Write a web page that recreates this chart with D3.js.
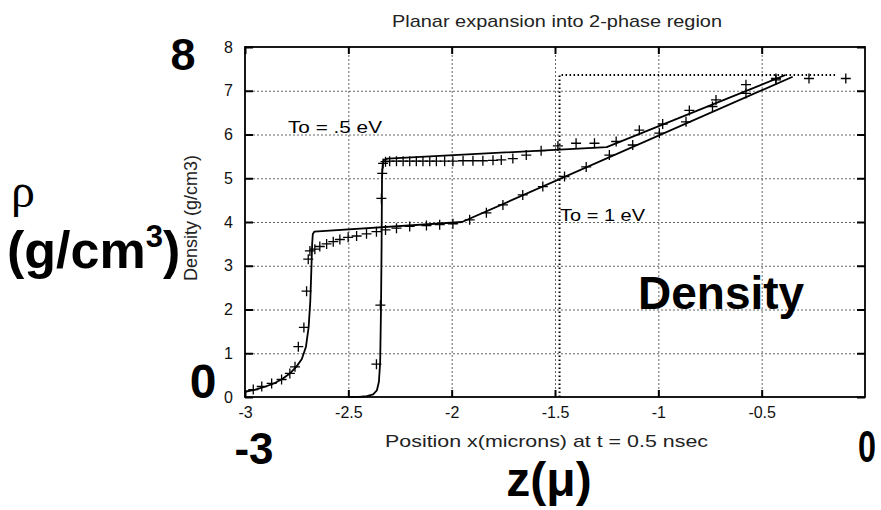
<!DOCTYPE html>
<html>
<head>
<meta charset="utf-8">
<script src="https://cdn.jsdelivr.net/npm/d3@7"></script>
<style>
  html, body { margin: 0; padding: 0; background: #fff; }
  svg { display: block; }
  text { font-family: "Liberation Sans", Arial, Helvetica, sans-serif; }
</style>
</head>
<body>
<svg id="chart" width="881" height="510"></svg>
<script>
// ---------------- data ----------------
const xTicks = [-3, -2.5, -2, -1.5, -1, -0.5];
const xTickLabels = ["-3", "-2.5", "-2", "-1.5", "-1", "-0.5"];
const yTicks = [0, 1, 2, 3, 4, 5, 6, 7, 8];
const yTickLabels = ["0", "1", "2", "3", "4", "5", "6", "7", "8"];

// model curve, To = .5 eV
const curveHalfEv = [
  [-2.5, 0], [-2.45, 0.005], [-2.41, 0.02], [-2.38, 0.06], [-2.362, 0.15],
  [-2.352, 0.35], [-2.346, 0.8], [-2.342, 2.0], [-2.339, 3.5], [-2.337, 5.0],
  [-2.334, 5.3], [-2.328, 5.42], [-2.31, 5.45], [-1.25, 5.71], [-0.385, 7.36]
];
// model curve, To = 1 eV
const curveOneEv = [
  [-3, 0.12], [-2.95, 0.17], [-2.9, 0.24], [-2.86, 0.31], [-2.82, 0.41],
  [-2.78, 0.55], [-2.75, 0.7], [-2.725, 0.87], [-2.705, 1.15], [-2.692, 1.6],
  [-2.684, 2.2], [-2.679, 2.9], [-2.675, 3.5], [-2.672, 3.72], [-2.665, 3.78],
  [-1.95, 4.0], [-0.35, 7.32]
];
// simulation points (+), To = .5 eV
const pointsHalfEv = [
  [-2.364, 0.75], [-2.345, 2.10], [-2.340, 4.54], [-2.336, 5.11], [-2.332, 5.34],
  [-2.32, 5.38], [-2.300, 5.39], [-2.267, 5.39], [-2.235, 5.39], [-2.203, 5.39],
  [-2.171, 5.39], [-2.139, 5.39], [-2.106, 5.39], [-2.074, 5.39], [-2.034, 5.39],
  [-1.994, 5.39], [-1.945, 5.40], [-1.897, 5.40], [-1.849, 5.40], [-1.800, 5.41],
  [-1.760, 5.42], [-1.704, 5.45], [-1.639, 5.53], [-1.567, 5.63], [-1.486, 5.74],
  [-1.398, 5.80], [-1.309, 5.80], [-1.204, 5.84], [-1.092, 6.10], [-0.979, 6.24],
  [-0.850, 6.55], [-0.721, 6.79], [-0.576, 7.14], [-0.431, 7.28]
];
// simulation points (+), To = 1 eV
const pointsOneEv = [
  [-2.96, 0.17], [-2.919, 0.24], [-2.871, 0.31], [-2.823, 0.40], [-2.783, 0.54],
  [-2.758, 0.69], [-2.742, 1.15], [-2.715, 1.59], [-2.702, 2.42], [-2.694, 3.15],
  [-2.686, 3.34], [-2.662, 3.38], [-2.638, 3.44], [-2.605, 3.50], [-2.573, 3.55],
  [-2.541, 3.60], [-2.501, 3.65], [-2.460, 3.68], [-2.412, 3.73], [-2.364, 3.78],
  [-2.32, 3.82], [-2.267, 3.86], [-2.203, 3.90], [-2.122, 3.92], [-2.058, 3.94],
  [-1.994, 3.96], [-1.913, 4.05], [-1.832, 4.21], [-1.752, 4.39], [-1.656, 4.62],
  [-1.559, 4.81], [-1.454, 5.04], [-1.349, 5.26], [-1.237, 5.53], [-1.124, 5.76],
  [-0.995, 6.03], [-0.866, 6.29], [-0.738, 6.64], [-0.576, 6.94], [-0.431, 7.25],
  [-0.271, 7.28], [-0.093, 7.28]
];
// dotted reference box
const dottedGuide = [[-1.478, 0], [-1.478, 7.36], [-0.14, 7.36]];

// ---------------- chart ----------------
const svg = d3.select("#chart");
const L = 245, R = 865, T = 47, B = 397;
const x = d3.scaleLinear().domain([-3, 0]).range([L, R]);
const y = d3.scaleLinear().domain([0, 8]).range([B, T]);

// grid
svg.append("g").attr("transform", `translate(0,${B})`)
  .call(d3.axisBottom(x).tickValues(xTicks.slice(1)).tickSize(-(B - T)).tickFormat(""))
  .call(g => g.select(".domain").remove())
  .call(g => g.selectAll("line").attr("stroke", "#666").attr("stroke-width", 1).attr("stroke-dasharray", "2,2"));
svg.append("g").attr("transform", `translate(${L},0)`)
  .call(d3.axisLeft(y).tickValues(yTicks.slice(1, -1)).tickSize(-(R - L)).tickFormat(""))
  .call(g => g.select(".domain").remove())
  .call(g => g.selectAll("line").attr("stroke", "#666").attr("stroke-width", 1).attr("stroke-dasharray", "2,2"));

// axes with inward ticks
const fmtX = (d) => xTickLabels[xTicks.indexOf(d)];
const fmtY = (d) => yTickLabels[yTicks.indexOf(d)];
const axB = svg.append("g").attr("transform", `translate(0,${B})`)
  .call(d3.axisBottom(x).tickValues(xTicks).tickSize(-7).tickPadding(10).tickFormat(fmtX));
const axT = svg.append("g").attr("transform", `translate(0,${T})`)
  .call(d3.axisTop(x).tickValues(xTicks).tickSize(-7).tickFormat(""));
const axL = svg.append("g").attr("transform", `translate(${L},0)`)
  .call(d3.axisLeft(y).tickValues(yTicks).tickSize(-8).tickPadding(12).tickFormat(fmtY));
const axR = svg.append("g").attr("transform", `translate(${R},0)`)
  .call(d3.axisRight(y).tickValues(yTicks).tickSize(-8).tickFormat(""));
[axB, axT, axL, axR].forEach(a => {
  a.select(".domain").remove();
  a.selectAll("line").attr("stroke", "#000").attr("stroke-width", 2);
  a.selectAll("text").attr("fill", "#111").style("font-size", "16px")
    .style("font-family", "Liberation Sans, Arial, sans-serif");
});

// frame
svg.append("rect").attr("x", L).attr("y", T).attr("width", R - L).attr("height", B - T)
  .attr("fill", "none").attr("stroke", "#000").attr("stroke-width", 1.8);

// dotted guide
svg.append("path").datum(dottedGuide)
  .attr("d", d3.line().x(d => x(d[0])).y(d => y(d[1])))
  .attr("fill", "none").attr("stroke", "#000").attr("stroke-width", 2).attr("stroke-dasharray", "1.5,2.5");

// curves
const line = d3.line().x(d => x(d[0])).y(d => y(d[1]));
[curveHalfEv, curveOneEv].forEach(c => {
  svg.append("path").datum(c).attr("d", line)
    .attr("fill", "none").attr("stroke", "#000").attr("stroke-width", 1.8).attr("stroke-linejoin", "round");
});

// plus markers
const plus = "M-5,0H5M0,-5V5";
[pointsHalfEv, pointsOneEv].forEach(pts => {
  svg.append("g").selectAll("path").data(pts).join("path")
    .attr("transform", d => `translate(${x(d[0])},${y(d[1])})`)
    .attr("d", plus).attr("stroke", "#000").attr("stroke-width", 1.3).attr("fill", "none");
});

// in-plot labels
svg.append("text").attr("x", 288).attr("y", 133).text("To = .5 eV")
  .style("font-size", "17px").attr("textLength", 94).attr("lengthAdjust", "spacingAndGlyphs");
svg.append("text").attr("x", 560).attr("y", 221).text("To = 1 eV")
  .style("font-size", "17px").attr("textLength", 85).attr("lengthAdjust", "spacingAndGlyphs");

// original small titles
svg.append("text").attr("x", 392).attr("y", 27).text("Planar expansion into 2-phase region")
  .style("font-size", "17px").attr("fill", "#222").attr("textLength", 330).attr("lengthAdjust", "spacingAndGlyphs");
svg.append("text").attr("x", 385).attr("y", 447).text("Position x(microns) at t = 0.5 nsec")
  .style("font-size", "17px").attr("fill", "#222").attr("textLength", 323).attr("lengthAdjust", "spacingAndGlyphs");
svg.append("text").attr("transform", "translate(197,218) rotate(-90)").attr("text-anchor", "middle")
  .text("Density (g/cm3)").style("font-size", "18px").attr("fill", "#222");

// big overlay labels
const big = (tx, ty, s, size, anchor) => svg.append("text")
  .attr("x", tx).attr("y", ty).attr("text-anchor", anchor || "start")
  .style("font-size", size + "px").style("font-weight", "bold").attr("fill", "#000").text(s);
big(183, 70, "8", 45, "middle");
big(203, 398, "0", 48, "middle");
big(254, 464, "-3", 44, "middle");
big(858, 462, "0", 44, "start").attr("textLength", 18).attr("lengthAdjust", "spacingAndGlyphs");
big(549, 496, "z(μ)", 48, "middle");
big(638, 309, "Density", 46, "start");
svg.append("text").attr("x", 11).attr("y", 207).text("ρ")
  .style("font-size", "48px").style("font-family", "Liberation Serif, serif").attr("fill", "#000");
const gl = svg.append("text").attr("x", 7).attr("y", 268)
  .style("font-size", "52px").style("font-weight", "bold").attr("fill", "#000");
gl.append("tspan").text("(g/cm");
gl.append("tspan").text("3").style("font-size", "31px").attr("dy", -21);
gl.append("tspan").text(")").attr("dy", 21);
</script>
</body>
</html>
